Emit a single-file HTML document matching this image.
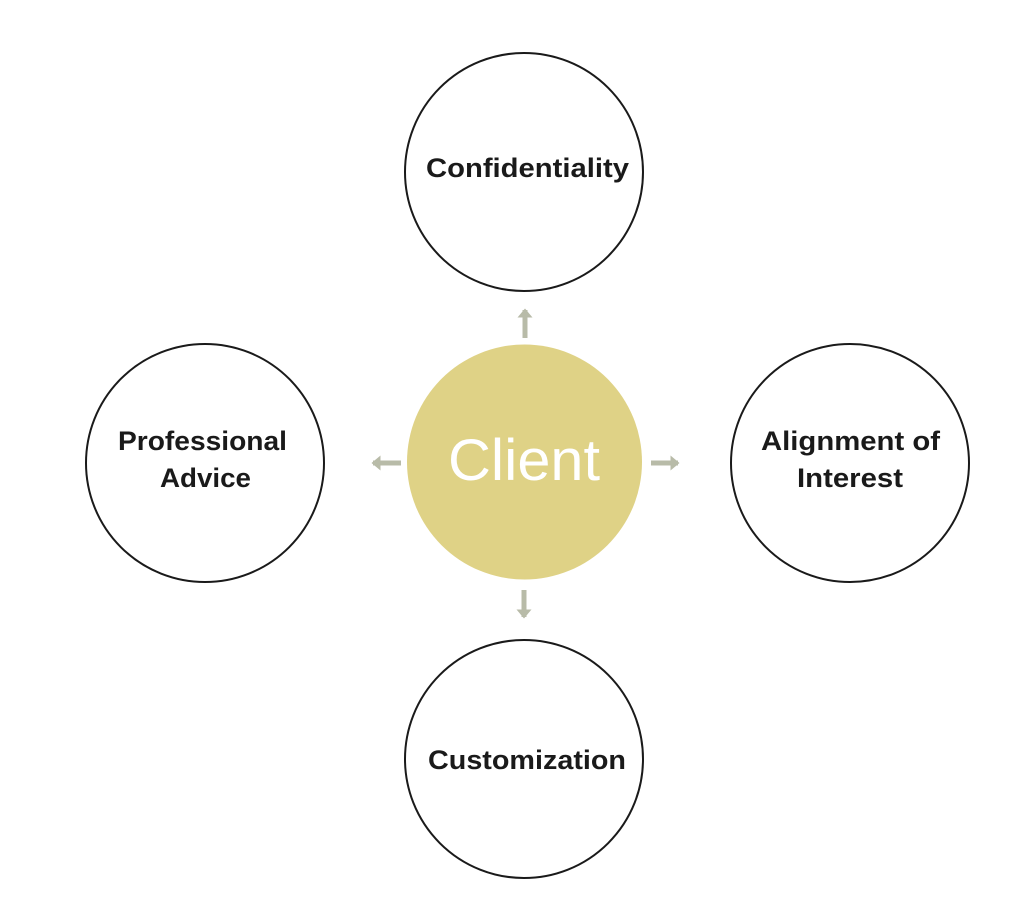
<!DOCTYPE html>
<html><head><style>html,body{margin:0;padding:0;background:#fff;}</style></head>
<body>
<svg width="1024" height="917" viewBox="0 0 1024 917" xmlns="http://www.w3.org/2000/svg">
<defs>
<marker id="ah" markerWidth="3" markerHeight="3" refX="1.5" refY="1.5" orient="auto" markerUnits="strokeWidth">
<path d="M0,0 L1.8,1.5 L0,3 Z" fill="#b8bba8"/>
</marker>
</defs>
<g fill="#fff" stroke="#1a1a1a" stroke-width="2">
<circle cx="524" cy="172" r="119"/>
<circle cx="205" cy="463" r="119"/>
<circle cx="850" cy="463" r="119"/>
<circle cx="524" cy="759" r="119"/>
</g>
<circle cx="524.5" cy="462" r="117.5" fill="#dfd286"/>
<g stroke="#b8bba8" stroke-width="5" marker-end="url(#ah)">
<line x1="525" y1="338" x2="525" y2="310"/>
<line x1="401" y1="463" x2="373" y2="463"/>
<line x1="651" y1="463" x2="678" y2="463"/>
<line x1="524" y1="590" x2="524" y2="617"/>
</g>
<g font-family="Liberation Sans, sans-serif" font-weight="bold" font-size="27" fill="#1a1a1a">
<text x="426" y="177" textLength="203" lengthAdjust="spacingAndGlyphs">Confidentiality</text>
<text x="118" y="450" textLength="169" lengthAdjust="spacingAndGlyphs">Professional</text>
<text x="160" y="487" textLength="91" lengthAdjust="spacingAndGlyphs">Advice</text>
<text x="761" y="450" textLength="179" lengthAdjust="spacingAndGlyphs">Alignment of</text>
<text x="797" y="487" textLength="106" lengthAdjust="spacingAndGlyphs">Interest</text>
<text x="428" y="769" textLength="198" lengthAdjust="spacingAndGlyphs">Customization</text>
</g>
<text x="448" y="480" font-family="Liberation Sans, sans-serif" font-size="58" fill="#fff" textLength="152" lengthAdjust="spacingAndGlyphs">Client</text>
</svg>
</body></html>
